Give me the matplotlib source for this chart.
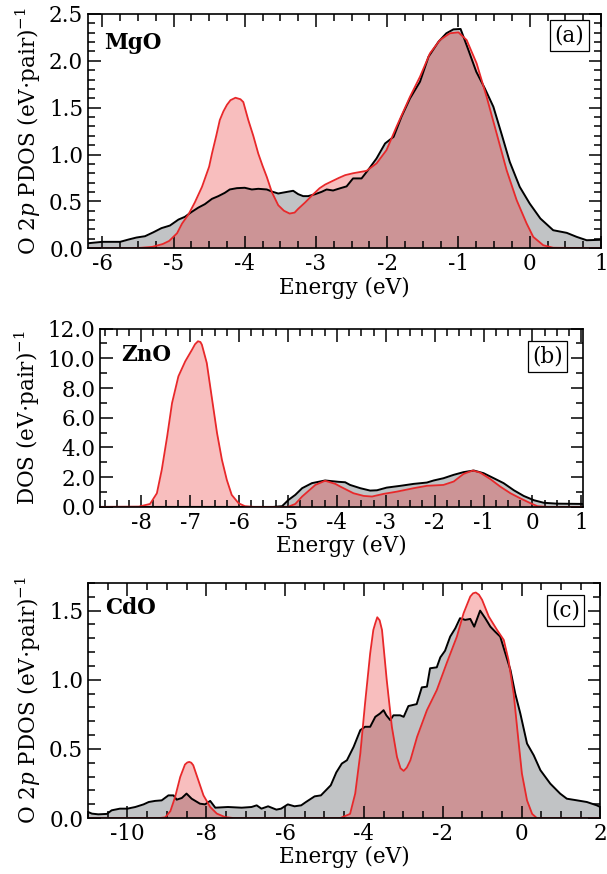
import matplotlib
matplotlib.use("Agg")
import matplotlib.pyplot as plt
from matplotlib.ticker import MultipleLocator, FormatStrFormatter

plt.rcParams['font.family'] = ['DejaVu Serif']
plt.rcParams['mathtext.fontset'] = 'dejavuserif'
plt.rcParams['axes.unicode_minus'] = False

# ---- MgO (a) ----
mgo_e_tot = [-6.24, -6.0, -5.75, -5.63, -5.52, -5.40, -5.28, -5.17, -5.05, -4.93, -4.84, -4.75, -4.65, -4.56,
             -4.46, -4.37, -4.28, -4.21, -4.11, -4.0, -3.9, -3.81, -3.69, -3.62, -3.53, -3.43, -3.32, -3.25,
             -3.18, -3.11, -3.01, -2.92, -2.85, -2.76, -2.66, -2.57, -2.48, -2.36, -2.27, -2.15, -2.03, -1.91,
             -1.80, -1.68, -1.54, -1.42, -1.28, -1.17, -1.07, -0.97, -0.86, -0.75, -0.63, -0.51, -0.39, -0.28,
             -0.14, 0.0, 0.15, 0.33, 0.52, 0.66, 0.80, 1.0]
mgo_tot = [0.05, 0.068, 0.068, 0.093, 0.114, 0.128, 0.171, 0.214, 0.242, 0.306, 0.335, 0.385, 0.434, 0.47,
           0.527, 0.556, 0.591, 0.627, 0.641, 0.645, 0.627, 0.634, 0.627, 0.605, 0.584, 0.598, 0.613, 0.577,
           0.556, 0.556, 0.577, 0.602, 0.627, 0.616, 0.64, 0.66, 0.745, 0.745, 0.833, 0.958, 1.118, 1.189,
           1.403, 1.599, 1.777, 2.044, 2.204, 2.294, 2.336, 2.34, 2.115, 1.884, 1.706, 1.51, 1.207, 0.922,
           0.655, 0.477, 0.317, 0.192, 0.164, 0.121, 0.085, 0.09]
mgo_e_mod = [-6.2, -5.6, -5.45, -5.3, -5.15, -5.06, -4.95, -4.88, -4.79, -4.7, -4.6, -4.5, -4.46, -4.4,
             -4.35, -4.3, -4.25, -4.2, -4.13, -4.06, -4.02, -3.95, -3.88, -3.81, -3.75, -3.69, -3.62, -3.53,
             -3.45, -3.37, -3.3, -3.25, -3.15, -3.06, -2.95, -2.87, -2.68, -2.59, -2.48, -2.29, -2.15, -2.01,
             -1.87, -1.68, -1.54, -1.40, -1.26, -1.12, -1.0, -0.885, -0.745, -0.605, -0.464, -0.324, -0.183,
             -0.043, 0.05, 0.19, 0.33, 1.0]
mgo_mod = [0, 0, 0.005, 0.014, 0.045, 0.078, 0.16, 0.263, 0.36, 0.49, 0.655, 0.87, 1.01, 1.2,
           1.368, 1.46, 1.53, 1.58, 1.606, 1.59, 1.56, 1.368, 1.2, 1.01, 0.88, 0.76, 0.60, 0.459,
           0.40, 0.37, 0.38, 0.42, 0.49, 0.56, 0.64, 0.68, 0.75, 0.78, 0.80, 0.826, 0.905, 1.047,
           1.296, 1.617, 1.83, 2.08, 2.222, 2.294, 2.304, 2.222, 1.973, 1.617, 1.225, 0.833, 0.513,
           0.264, 0.121, 0.032, 0.005, 0.0]

# ---- ZnO (b) ----
zno_e_tot = [-8.85, -5.3, -5.12, -4.99, -4.85, -4.71, -4.51, -4.24, -3.97, -3.83, -3.73, -3.52, -3.32, -3.18,
             -2.98, -2.70, -2.43, -2.16, -2.02, -1.82, -1.61, -1.41, -1.20, -1.0, -0.79, -0.59, -0.38, -0.18,
             0.03, 0.23, 0.5, 1.05]
zno_tot = [0, 0, 0.05, 0.47, 0.81, 1.26, 1.6, 1.78, 1.69, 1.66, 1.48, 1.26, 1.1, 1.12,
           1.3, 1.42, 1.55, 1.64, 1.78, 1.93, 2.16, 2.34, 2.45, 2.27, 1.93, 1.6, 1.12, 0.74,
           0.45, 0.28, 0.22, 0.2]
zno_e_mod = [-8.85, -8.05, -7.82, -7.68, -7.58, -7.47, -7.37, -7.24, -7.10, -6.96, -6.9, -6.84, -6.79, -6.76,
             -6.66, -6.55, -6.45, -6.35, -6.25, -6.15, -6.01, -5.88, -5.7, -5.0, -4.85, -4.71, -4.44, -4.24,
             -4.03, -3.93, -3.66, -3.45, -3.28, -3.04, -2.77, -2.43, -2.16, -1.82, -1.61, -1.41, -1.22, -1.07,
             -0.86, -0.66, -0.45, -0.25, -0.04, 0.1, 0.3, 1.05]
zno_mod = [0, 0.02, 0.2, 0.92, 2.5, 4.74, 6.99, 8.79, 9.8, 10.59, 10.95, 11.15, 11.1, 10.92,
           9.69, 7.21, 4.97, 3.17, 1.82, 0.81, 0.25, 0.05, 0, 0, 0.2, 0.7, 1.48, 1.76,
           1.55, 1.37, 0.92, 0.74, 0.70, 0.88, 1.03, 1.26, 1.42, 1.48, 1.71, 2.22, 2.45, 2.31,
           1.87, 1.37, 0.92, 0.58, 0.25, 0.05, 0, 0]

# ---- CdO (c) ----
cdo_e_tot = [-11.0, -10.9, -10.74, -10.52, -10.4, -10.19, -10.0, -9.8, -9.59, -9.46, -9.3, -9.13, -8.96, -8.83,
             -8.75, -8.62, -8.5, -8.37, -8.16, -8.03, -7.9, -7.77, -7.45, -7.1, -6.85, -6.72, -6.6, -6.43,
             -6.22, -6.1, -5.93, -5.76, -5.59, -5.47, -5.25, -5.09, -4.84, -4.7, -4.56, -4.43, -4.26, -4.09,
             -3.97, -3.84, -3.71, -3.59, -3.5, -3.43, -3.33, -3.25, -3.08, -2.99, -2.87, -2.66, -2.53, -2.4,
             -2.32, -2.15, -2.06, -1.94, -1.81, -1.68, -1.56, -1.43, -1.3, -1.2, -1.05, -0.92, -0.79, -0.67,
             -0.54, -0.41, -0.28, -0.16, -0.03, 0.14, 0.31, 0.48, 0.73, 0.98, 1.15, 1.41, 1.66, 1.91, 2.0]
cdo_tot = [0.044, 0.032, 0.027, 0.03, 0.056, 0.068, 0.068, 0.08, 0.099, 0.116, 0.124, 0.128, 0.164, 0.164,
           0.133, 0.145, 0.177, 0.14, 0.104, 0.099, 0.124, 0.075, 0.08, 0.075, 0.08, 0.092, 0.068, 0.085,
           0.061, 0.068, 0.099, 0.085, 0.092, 0.116, 0.157, 0.164, 0.237, 0.33, 0.394, 0.418, 0.515, 0.636,
           0.66, 0.66, 0.732, 0.756, 0.78, 0.743, 0.708, 0.743, 0.743, 0.732, 0.81, 0.824, 0.945, 0.95,
           1.083, 1.09, 1.162, 1.21, 1.312, 1.372, 1.445, 1.433, 1.44, 1.384, 1.5, 1.445, 1.384, 1.348,
           1.312, 1.191, 1.07, 0.901, 0.756, 0.539, 0.454, 0.346, 0.249, 0.177, 0.14, 0.128, 0.116, 0.092, 0.08]
cdo_e_mod = [-11.0, -9.2, -9.04, -8.91, -8.79, -8.66, -8.54, -8.48, -8.43, -8.38, -8.33, -8.2, -8.07, -7.9,
             -7.73, -7.52, -7.3, -4.6, -4.35, -4.22, -4.09, -3.97, -3.84, -3.76, -3.71, -3.66, -3.6, -3.54,
             -3.42, -3.29, -3.16, -3.07, -2.99, -2.91, -2.82, -2.65, -2.4, -2.15, -1.9, -1.64, -1.47, -1.3,
             -1.23, -1.16, -1.08, -1.0, -0.83, -0.62, -0.45, -0.33, -0.2, -0.07, 0.01, 0.14, 0.27, 0.39, 2.0]
cdo_mod = [0, 0, 0.005, 0.05, 0.152, 0.297, 0.387, 0.402, 0.406, 0.4, 0.382, 0.273, 0.164, 0.08,
           0.032, 0.007, 0, 0, 0.03, 0.177, 0.467, 0.829, 1.191, 1.36, 1.409, 1.452, 1.43, 1.36,
           0.998, 0.66, 0.442, 0.36, 0.341, 0.365, 0.418, 0.587, 0.78, 0.925, 1.119, 1.312, 1.481, 1.602,
           1.625, 1.631, 1.615, 1.578, 1.457, 1.36, 1.288, 1.143, 0.901, 0.539, 0.322, 0.128, 0.03, 0, 0]

gray = '#c1c3c5'
red = '#e8282a'

fig = plt.figure(figsize=(6.07, 8.74), dpi=100)

panels = [
    ([0.145, 0.716, 0.845, 0.268], mgo_e_tot, mgo_tot, mgo_e_mod, mgo_mod, (-6.2, 1.0), (0, 2.5),
     1, 0.25, 0.5, 0.1, "O 2$p$ PDOS (eV$\\cdot$pair)$^{-1}$", "MgO", "(a)",
     (0.031, 0.876), (0.9386, 0.908)),
    ([0.165, 0.420, 0.796, 0.204], zno_e_tot, zno_tot, zno_e_mod, zno_mod, (-8.84, 1.04), (0, 12),
     1, 0.25, 2.0, 1.0, "DOS (eV$\\cdot$pair)$^{-1}$", "ZnO", "(b)",
     (0.043, 0.854), (0.9265, 0.844)),
    ([0.145, 0.064, 0.844, 0.269], cdo_e_tot, cdo_tot, cdo_e_mod, cdo_mod, (-11.0, 2.0), (0, 1.7),
     2, 0.5, 0.5, 0.1, "O 2$p$ PDOS (eV$\\cdot$pair)$^{-1}$", "CdO", "(c)",
     (0.033, 0.893), (0.932, 0.884)),
]

for (rect, et, vt, em, vm, xl, yl, xmaj, xmin, ymaj, ymin, ylab, name, tag, npos, tpos) in panels:
    ax = fig.add_axes(rect)
    ax.fill_between(et, vt, color=gray, lw=0)
    ax.fill_between(em, vm, color=red, alpha=0.3, lw=0)
    ax.plot(et, vt, color='black', lw=1.4)
    ax.plot(em, vm, color=red, lw=1.3)
    ax.set_xlim(*xl)
    ax.set_ylim(*yl)
    ax.xaxis.set_major_locator(MultipleLocator(xmaj))
    ax.xaxis.set_minor_locator(MultipleLocator(xmin))
    ax.yaxis.set_major_locator(MultipleLocator(ymaj))
    ax.yaxis.set_minor_locator(MultipleLocator(ymin))
    ax.yaxis.set_major_formatter(FormatStrFormatter('%.1f'))
    ax.xaxis.set_major_formatter(FormatStrFormatter('%g'))
    ax.tick_params(which='both', direction='in', top=True, right=True, width=1.1, labelsize=15.5)
    ax.tick_params(which='major', length=9)
    ax.tick_params(which='minor', length=5)
    for s in ax.spines.values():
        s.set_linewidth(1.2)
    ax.set_xlabel("Energy (eV)", fontsize=15.5, labelpad=1)
    ax.set_ylabel(ylab, fontsize=15.5, labelpad=4)
    ax.text(npos[0], npos[1], name, transform=ax.transAxes, fontsize=15.5, fontweight='bold',
            ha='left', va='center')
    ax.text(tpos[0], tpos[1], tag, transform=ax.transAxes, fontsize=15.5, ha='center', va='center',
            bbox=dict(boxstyle='square,pad=0.2', fc='white', ec='black', lw=0.9))

fig.savefig("out.png", dpi=100)
